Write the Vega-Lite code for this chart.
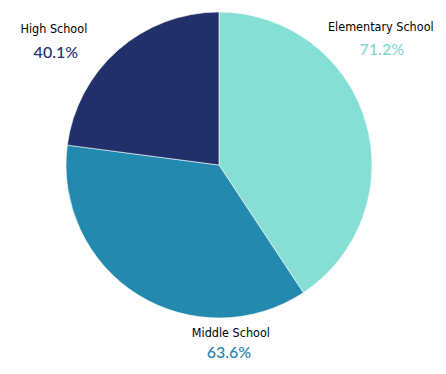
{
  "$schema": "https://vega.github.io/schema/vega-lite/v6.json",
  "width": 438,
  "height": 330,
  "autosize": {"type": "none"},
  "padding": {"left": 0, "top": 0, "right": 8, "bottom": 44},
  "background": "white",
  "view": {"stroke": null},
  "data": {
    "values": [
      {"category": "Elementary School", "value": 71.2, "label": "71.2%"},
      {"category": "Middle School", "value": 63.6, "label": "63.6%"},
      {"category": "High School", "value": 40.1, "label": "40.1%"}
    ]
  },
  "transform": [
    {"calculate": "indexof(['Elementary School','Middle School','High School'], datum.category)", "as": "ord"},
    {"stack": "value", "groupby": [], "sort": [{"field": "ord", "order": "ascending"}], "as": ["v0", "v1"]},
    {"calculate": "(datum.v0 + datum.v1) / 2", "as": "vm"}
  ],
  "layer": [
    {
      "mark": {"type": "arc", "radius": 153, "stroke": "white", "strokeWidth": 0.6},
      "encoding": {
        "theta": {"field": "v1", "type": "quantitative", "scale": {"zero": true, "nice": false}},
        "theta2": {"field": "v0"},
        "color": {
          "field": "category",
          "type": "nominal",
          "scale": {"domain": ["Elementary School", "Middle School", "High School"], "range": ["#86DFD4", "#2389AE", "#21306B"]},
          "legend": null
        }
      }
    },
    {
      "transform": [{"filter": "datum.category == 'Elementary School'"}],
      "mark": {"type": "text", "radius": 170, "dx": -1, "dy": -89, "font": "DejaVu Sans Condensed, Roboto", "fontSize": 12.5, "color": "#000000", "align": "center", "baseline": "middle"},
      "encoding": {"theta": {"field": "vm", "type": "quantitative"}, "text": {"field": "category"}}
    },
    {
      "transform": [{"filter": "datum.category == 'Elementary School'"}],
      "mark": {"type": "text", "radius": 170, "dx": 0, "dy": -66, "font": "Lato", "fontSize": 16, "fontWeight": 500, "color": "#7FD8CE", "align": "center", "baseline": "middle"},
      "encoding": {"theta": {"field": "vm", "type": "quantitative"}, "text": {"field": "label"}}
    },
    {
      "transform": [{"filter": "datum.category == 'Middle School'"}],
      "mark": {"type": "text", "radius": 170, "dx": 102, "dy": 24, "font": "DejaVu Sans Condensed, Roboto", "fontSize": 12.5, "color": "#000000", "align": "center", "baseline": "middle"},
      "encoding": {"theta": {"field": "vm", "type": "quantitative"}, "text": {"field": "category"}}
    },
    {
      "transform": [{"filter": "datum.category == 'Middle School'"}],
      "mark": {"type": "text", "radius": 170, "dx": 100, "dy": 44, "font": "Lato", "fontSize": 16, "fontWeight": 500, "color": "#1F84AB", "align": "center", "baseline": "middle"},
      "encoding": {"theta": {"field": "vm", "type": "quantitative"}, "text": {"field": "label"}}
    },
    {
      "transform": [{"filter": "datum.category == 'High School'"}],
      "mark": {"type": "text", "radius": 170, "dx": -53, "dy": -8, "font": "DejaVu Sans Condensed, Roboto", "fontSize": 12.5, "color": "#000000", "align": "center", "baseline": "middle"},
      "encoding": {"theta": {"field": "vm", "type": "quantitative"}, "text": {"field": "category"}}
    },
    {
      "transform": [{"filter": "datum.category == 'High School'"}],
      "mark": {"type": "text", "radius": 170, "dx": -51, "dy": 16, "font": "Lato", "fontSize": 16, "fontWeight": 500, "color": "#22306B", "align": "center", "baseline": "middle"},
      "encoding": {"theta": {"field": "vm", "type": "quantitative"}, "text": {"field": "label"}}
    }
  ]
}
